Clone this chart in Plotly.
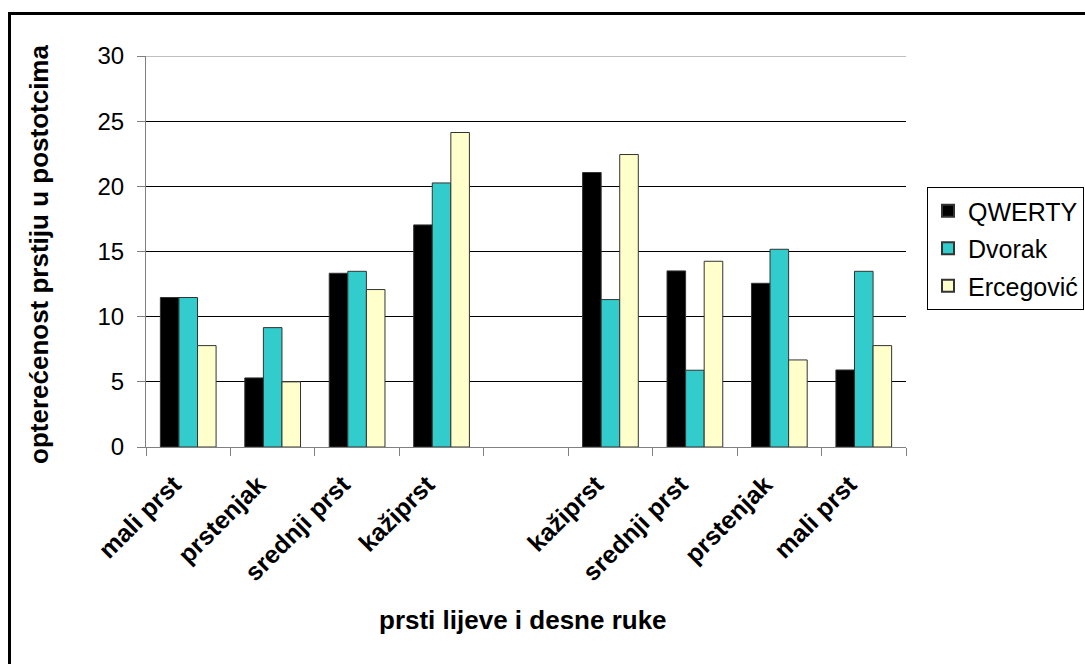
import plotly.graph_objects as go

# Finger categories, left hand then right hand, with an empty slot between hands
fingers = ["mali prst", "prstenjak", "srednji prst", "kažiprst", "",
           "kažiprst", "srednji prst", "prstenjak", "mali prst"]

qwerty = [11.47, 5.3, 13.33, 17.04, None, 21.06, 13.51, 12.56, 5.91]
dvorak = [11.47, 9.16, 13.48, 20.26, None, 11.31, 5.89, 15.17, 13.48]
ercegovic = [7.78, 5.0, 12.08, 24.13, None, 22.44, 14.25, 6.68, 7.78]

series_names = ["QWERTY", "Dvorak", "Ercegović"]
series_colors = ["#000000", "#33CCCC", "#FFFFCC"]

FONT = "Arial, Liberation Sans, sans-serif"

W, H = 1085, 664
ML, MR, MT, MB = 146, 179, 56, 217
PW = W - ML - MR
PH = H - MT - MB

positions = list(range(len(fingers)))
# rotated labels sit slightly left of each category centre
label_pos = [p - 0.17 for p in positions]

fig = go.Figure()
for name, vals, col in zip(series_names, [qwerty, dvorak, ercegovic], series_colors):
    fig.add_trace(go.Bar(
        x=positions, y=vals, name=name, legendgroup=name,
        marker=dict(color=col, line=dict(color="#333333", width=1)),
    ))


def px_x(p):
    return (p - ML) / PW


def px_y(p):
    return (H - MB - p) / PH


fig.update_layout(
    width=W, height=H,
    margin=dict(l=ML, r=MR, t=MT, b=MB, autoexpand=False),
    paper_bgcolor="white", plot_bgcolor="white",
    barmode="group", bargap=0.34, bargroupgap=0,
    font=dict(family=FONT, color="black"),
    showlegend=True,
    legend=dict(
        x=px_x(927), y=px_y(187), xanchor="left", yanchor="top",
        bordercolor="black", borderwidth=1, bgcolor="white",
        font=dict(size=25, family=FONT, color="black"),
        tracegroupgap=2, itemsizing="constant",
        entrywidth=170,
    ),
    xaxis=dict(
        range=[-0.5, len(fingers) - 0.5],
        tickmode="array", tickvals=label_pos, ticktext=fingers,
        tickangle=-45, ticks="", ticklabelstandoff=12,
        tickfont=dict(size=25, family=FONT, color="black", weight="bold"),
        showline=True, linecolor="#808080", linewidth=1,
        showgrid=False, zeroline=False,
        minor=dict(tick0=-0.5, dtick=1, ticks="outside", ticklen=8,
                   tickcolor="#808080", tickwidth=1, showgrid=False),
    ),
    yaxis=dict(
        range=[0, 30], dtick=5, tick0=0,
        ticks="outside", ticklen=8, tickcolor="#808080",
        ticklabelstandoff=8,
        tickfont=dict(size=24, family=FONT, color="black"),
        showline=True, linecolor="#808080", linewidth=1,
        showgrid=True, gridcolor="black", gridwidth=1,
        zeroline=False,
    ),
    annotations=[
        dict(text="opterećenost prstiju u postotcima", xref="paper", yref="paper",
             x=px_x(39), y=px_y(255), xanchor="center", yanchor="middle",
             textangle=-90, showarrow=False,
             font=dict(size=26, family=FONT, color="black", weight="bold")),
        dict(text="prsti lijeve i desne ruke", xref="paper", yref="paper",
             x=px_x(523), y=px_y(620), xanchor="center", yanchor="middle",
             showarrow=False,
             font=dict(size=26, family=FONT, color="black", weight="bold")),
    ],
    shapes=[
        # top gridline at the axis maximum
        dict(type="line", xref="paper", yref="y", x0=0, x1=1, y0=30, y1=30,
             line=dict(color="#808080", width=1)),
        dict(type="rect", xref="paper", yref="paper",
             x0=px_x(9.5), x1=px_x(1100), y0=px_y(680), y1=px_y(13.5),
             line=dict(color="black", width=3), fillcolor="rgba(0,0,0,0)",
             layer="above"),
    ],
)

fig.write_html("out.html")
